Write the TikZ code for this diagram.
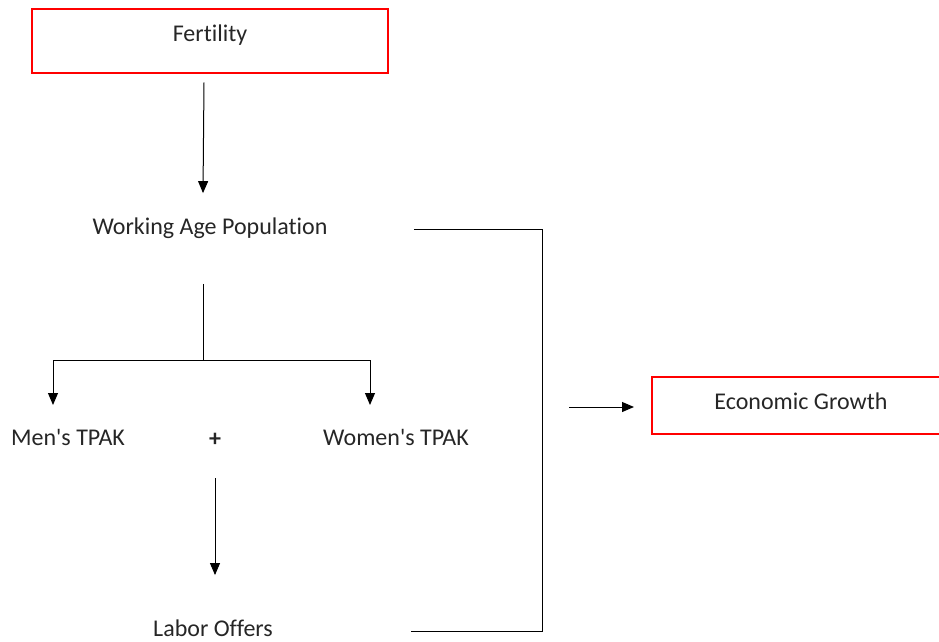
\documentclass[tikz,border=0pt]{standalone}
\usepackage{fontspec}
\setmainfont{Carlito}[Ligatures={NoCommon}]
\usepackage{tikz}
\usetikzlibrary{calc,arrows.meta}
\tikzstyle{every picture}=[->,>={Triangle[length=12pt,width=10pt]}]
\tikzstyle{redbox}=[draw=red,line width=2pt,minimum height=63pt,inner sep=0pt]
\tikzstyle{label}=[inner sep=0pt]

\begin{document}
\begin{tikzpicture}[x=1pt,y=-1pt,line width=1pt,font=\fontsize{24}{28}\selectfont,
  every node/.append style={text=black!85}]
    \useasboundingbox (0,0) rectangle (939,642);

    % Boxes
    \node[redbox,minimum width=356pt] (fert) at (210,41) {};
    \node[label] at (210,35) {Fertility};
    \node[redbox,minimum width=296pt,minimum height=57pt] (growth) at (800,405) {};
    \node[label] (growthtxt) at (801,401) {Economic Growth};

    % Labels
    \node[label] (wap) at (210,228) {Working Age Population};
    \node[label] (men) at (68,437) {Men\textquotesingle s TPAK};
    \node[label] (plus) at (215,440) {\textbf{+}};
    \node[label] (women) at (396,437) {Women\textquotesingle s TPAK};
    \node[label] (labor) at (213,628) {Labor Offers};

    % Helper points
    \coordinate (split) at (203,360);
    \coordinate (mtop) at (53,360);
    \coordinate (wtop) at (370,360);
    \coordinate (ctop) at (542,229);
    \coordinate (cbot) at (542,631);

    % Fertility to working age
    \draw ([xshift=-6pt,yshift=-9pt]fert.south) -- ([xshift=-7pt,yshift=24pt]wap.north);

    % Split into men and women
    \draw[-] ($(wap.south)+(-7,45)$) -- (split);
    \draw[-] (mtop) -- (wtop);
    \draw (mtop) -- ($(mtop)+(0,45)$);
    \draw (wtop) -- ($(wtop)+(0,45)$);

    % Sum to labor offers
    \draw ($(plus.south)+(0,31)$) -- ($(labor.north)+(2,-44)$);

    % Bracket to economic growth
    \draw[-] ($(wap.east)+(86,1)$) -- (ctop) -- (cbot) -- ($(labor.east)+(138,3)$);
    \draw ($(growth.west)+(-82,2)$) -- ($(growth.west)+(-17,2)$);

\end{tikzpicture}
\end{document}
